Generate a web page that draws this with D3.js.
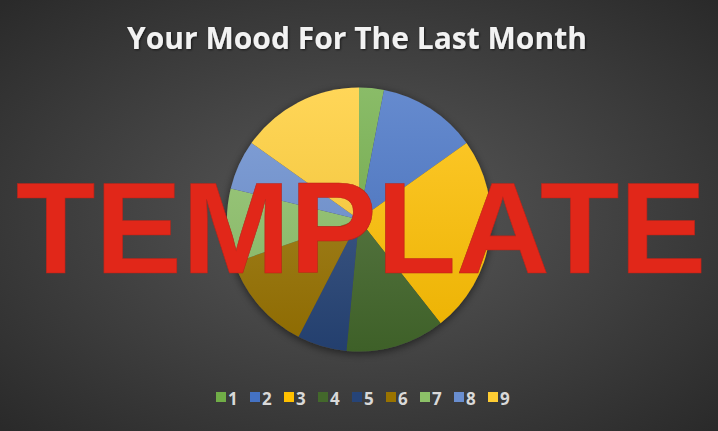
<!DOCTYPE html>
<html>
<head>
<meta charset="utf-8">
<script src="https://cdn.jsdelivr.net/npm/d3@7"></script>
<style>
  html, body { margin: 0; padding: 0; background: #3a3a3a; }
  svg { display: block; }
</style>
</head>
<body>
<svg id="chart" width="718" height="431"></svg>
<script>
const title = "Your Mood For The Last Month";
const categories = ["1", "2", "3", "4", "5", "6", "7", "8", "9"];
const values = [1, 4, 8, 4, 2, 4, 3, 2, 5];
const colors = ["#70AD47", "#4472C4", "#FFC000", "#43682B", "#264478", "#997300", "#8CC168", "#698ED0", "#FFCD33"];
const watermark = "TEMPLATE";

const W = 718, H = 431;
const svg = d3.select("#chart");
const defs = svg.append("defs");

// background radial gradient
const bg = defs.append("radialGradient").attr("id", "bg")
  .attr("cx", "50%").attr("cy", "50%").attr("r", "70%");
bg.append("stop").attr("offset", "0%").attr("stop-color", "#595959");
bg.append("stop").attr("offset", "100%").attr("stop-color", "#2a2a2a");
svg.append("rect").attr("width", W).attr("height", H).attr("fill", "url(#bg)");

// shadow filters
const sh = defs.append("filter").attr("id", "pieShadow").attr("x", "-20%").attr("y", "-20%").attr("width", "140%").attr("height", "140%");
sh.append("feDropShadow").attr("dx", 0).attr("dy", 2).attr("stdDeviation", 4)
  .attr("flood-color", "#000").attr("flood-opacity", 0.55);
const tsh = defs.append("filter").attr("id", "textShadow").attr("x", "-10%").attr("y", "-30%").attr("width", "120%").attr("height", "160%");
tsh.append("feDropShadow").attr("dx", 1).attr("dy", 1).attr("stdDeviation", 1)
  .attr("flood-color", "#000").attr("flood-opacity", 0.6);

// title
svg.append("text")
  .attr("x", 357).attr("y", 49)
  .attr("text-anchor", "middle")
  .attr("font-family", "'Open Sans', sans-serif")
  .attr("font-weight", "bold")
  .attr("font-size", 30)
  .attr("fill", "#f2f2f2")
  .attr("filter", "url(#textShadow)")
  .text(title);

// pie
const cx = 359, cy = 219.5, R = 132;
const color = d3.scaleOrdinal().domain(categories).range(colors);
const data = categories.map((c, i) => ({ cat: c, value: values[i] }));
const pie = d3.pie().value(d => d.value).sort(null);
const arc = d3.arc().innerRadius(0).outerRadius(R);

categories.forEach((c, i) => {
  const base = d3.color(color(c));
  const g = defs.append("linearGradient").attr("id", "sg" + i)
    .attr("gradientUnits", "userSpaceOnUse")
    .attr("x1", 0).attr("y1", -R).attr("x2", 0).attr("y2", R);
  g.append("stop").attr("offset", "0%").attr("stop-color", d3.interpolateRgb(base, "#ffffff")(0.18));
  g.append("stop").attr("offset", "100%").attr("stop-color", d3.interpolateRgb(base, "#000000")(0.08));
});

const pg = svg.append("g").attr("transform", `translate(${cx},${cy})`);
pg.append("circle").attr("r", R).attr("fill", "#444").attr("filter", "url(#pieShadow)");
pg.selectAll("path.slice")
  .data(pie(data))
  .join("path")
  .attr("class", "slice")
  .attr("d", arc)
  .attr("fill", (d, i) => `url(#sg${i})`);

// legend
const lx = d3.scaleBand().domain(categories).range([216, 216 + 34 * 9]).paddingInner(0);
const lg = svg.append("g");
const items = lg.selectAll("g").data(categories).join("g")
  .attr("transform", d => `translate(${lx(d)},0)`);
items.append("rect").attr("x", 0).attr("y", 392).attr("width", 10).attr("height", 10)
  .attr("fill", d => color(d));
items.append("text").attr("x", 12).attr("y", 405)
  .attr("font-family", "'Open Sans', sans-serif")
  .attr("font-weight", "bold")
  .attr("font-size", 17)
  .attr("fill", "#d9d9d9")
  .text(d => d);

// watermark
svg.append("text")
  .attr("x", 361).attr("y", 273)
  .attr("text-anchor", "middle")
  .attr("font-family", "'Liberation Sans', Arial, sans-serif")
  .attr("font-weight", "bold")
  .attr("font-size", 130)
  .attr("fill", "#E12719")
  .attr("stroke", "#b8241a").attr("stroke-width", 0.6)
  .attr("textLength", 690)
  .attr("lengthAdjust", "spacingAndGlyphs")
  .text(watermark);
</script>
</body>
</html>
